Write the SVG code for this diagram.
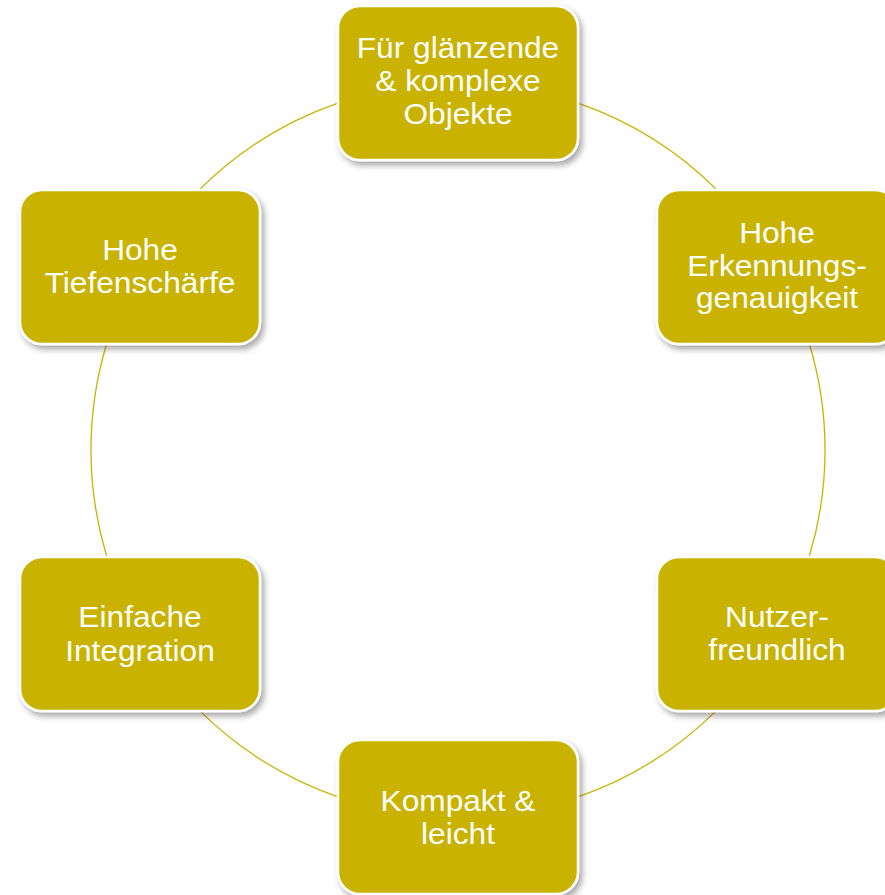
<svg xmlns="http://www.w3.org/2000/svg" width="885" height="895" viewBox="0 0 885 895">
<defs>
<filter id="sh" x="-10%" y="-10%" width="125%" height="130%">
<feDropShadow dx="3" dy="4" stdDeviation="3" flood-color="#000" flood-opacity="0.35"/>
</filter>
<style>
.box{fill:#C9B300;stroke:#fff;stroke-width:2.5;filter:url(#sh)}
.arc{fill:none;stroke:#C9B300;stroke-width:1.3}
.t{font-family:"Liberation Sans",Arial,sans-serif;font-size:28.8px;fill:#fff;text-anchor:middle}
</style>
</defs>
<rect width="885" height="895" fill="#fff"/>
<g id="connectors">
<path class="arc" d="M578.1,103.2 A367,367 0 0 1 717.1,190.1"/>
<path class="arc" d="M809.1,343 A367,367 0 0 1 809.1,557"/>
<path class="arc" d="M717.1,709.9 A367,367 0 0 1 578.1,796.8"/>
<path class="arc" d="M337.9,796.8 A367,367 0 0 1 198.9,709.9"/>
<path class="arc" d="M106.9,557 A367,367 0 0 1 106.9,343"/>
<path class="arc" d="M198.9,190.1 A367,367 0 0 1 337.9,103.2"/>
</g>
<g id="node-top">
<rect class="box" x="338" y="6" width="240" height="154" rx="22"/>
<text class="t" transform="matrix(1.1 0 0 1 -45.8 0)"><tspan x="458" y="58.3">Für glänzende</tspan><tspan x="458" y="91.5">&amp; komplexe</tspan><tspan x="458" y="124.5">Objekte</tspan></text>
</g>
<g id="node-right-upper">
<rect class="box" x="657" y="190" width="240" height="154" rx="22"/>
<text class="t" transform="matrix(1.1 0 0 1 -77.7 0)"><tspan x="777" y="243.3">Hohe</tspan><tspan x="777" y="276.5">Erkennungs-</tspan><tspan x="777" y="308.5">genauigkeit</tspan></text>
</g>
<g id="node-right-lower">
<rect class="box" x="657" y="557" width="240" height="154" rx="22"/>
<text class="t" transform="matrix(1.1 0 0 1 -77.7 0)"><tspan x="777" y="627">Nutzer-</tspan><tspan x="777" y="660">freundlich</tspan></text>
</g>
<g id="node-bottom">
<rect class="box" x="338" y="740" width="240" height="154" rx="22"/>
<text class="t" transform="matrix(1.1 0 0 1 -45.8 0)"><tspan x="458" y="811">Kompakt &amp;</tspan><tspan x="458" y="844.3">leicht</tspan></text>
</g>
<g id="node-left-lower">
<rect class="box" x="20" y="557" width="240" height="154" rx="22"/>
<text class="t" transform="matrix(1.1 0 0 1 -14 0)"><tspan x="140" y="627.3">Einfache</tspan><tspan x="140" y="661">Integration</tspan></text>
</g>
<g id="node-left-upper">
<rect class="box" x="20" y="190" width="240" height="154" rx="22"/>
<text class="t" transform="matrix(1.1 0 0 1 -14 0)"><tspan x="140" y="260">Hohe</tspan><tspan x="140" y="292.7">Tiefenschärfe</tspan></text>
</g>
</svg>
